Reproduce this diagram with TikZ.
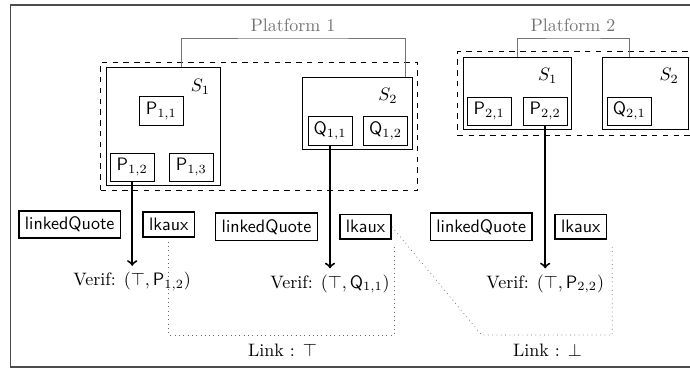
\documentclass[tikz,border=0pt]{standalone}
\usepackage{amssymb}
\usetikzlibrary{fit,calc}

\begin{document}
\begin{tikzpicture}[x=0.5556pt, y=-0.5556pt,
  pbox/.style={draw, minimum width=24.4pt, minimum height=15.9pt, inner sep=1pt},
  sysbox/.style={draw, inner sep=0pt},
  qtbox/.style={draw, thick, font=\sffamily},
  platline/.style={draw=black!55},
  linkline/.style={draw=black!60, dotted},
  verarrow/.style={->, line width=1.1pt}]
\useasboundingbox (0,0) rectangle (690,368);
\draw[black!70, line width=0.6pt] (10.5,5) rectangle (696,367);
% platform 1
\node[sysbox, dashed, fit={(100.7,62) (417.7,190.5)}] (d1) {};
\node[sysbox, fit={(106.3,67.7) (220.7,185)}] (s11) {}; \node (s11l) at (200.5,86.7) {$S_1$};
\node[sysbox, fit={(302.7,77) (412.3,149)}] (s12) {};   \node (s12l) at (388,96) {$S_2$};
% platform 2
\node[sysbox, dashed, fit={(457.7,51.7) (720,135)}] (d2) {};
\node[sysbox, fit={(463.3,57.3) (571,129.3)}] (s21) {}; \node (s21l) at (547.7,76) {$S_1$};
\node[sysbox, fit={(602.7,57.3) (688.3,129.3)}] (s22) {}; \node (s22l) at (669.2,76) {$S_2$};
\foreach \n/\x/\y/\l/\i in {p11/161.3/111/P/{1,1}, p12/132.2/167.2/P/{1,2}, p13/191.3/167.2/P/{1,3},
  q11/330/131/Q/{1,1}, q12/385.5/131/Q/{1,2}, p21/489.2/111.2/P/{2,1}, p22/545.2/111.2/P/{2,2}, q21/629.2/111.2/Q/{2,1}}
  \node[pbox] (\n) at (\x,\y) {$\mathsf{\l}_{\i}$};
% platform brackets
\coordinate (pl1) at (293,38); \node[text=black!55, above] (lab1) at (pl1) {Platform 1};
\draw[platline] ([shift={(17.5,0)}]s11.north) |- (pl1) -| ([shift={(47.5,0)}]s12.north);
\coordinate (pl2) at (573,38); \node[text=black!55, above] (lab2) at (pl2) {Platform 2};
\draw[platline] (s21.north) |- (pl2) -| (q21 |- s22.north);
% quotes
\foreach \n/\x/\y/\t in {lq1/69.7/224.5/linkedQuote, la1/168.7/224.5/lkaux, lq2/266.5/226.7/linkedQuote,
  la2/365.5/226.8/lkaux, lq3/481.2/226.7/linkedQuote, la3/580.8/226.8/lkaux}
  \node[qtbox] (\n) at (\x,\y) {\t};
% verification
\node (v1) at (132.2,281.5) {Verif: $(\top,\mathsf{P}_{1,2})$}; \draw[verarrow] (p12) -- (v1);
\node (v2) at (330,284) {Verif: $(\top,\mathsf{Q}_{1,1})$};     \draw[verarrow] (q11) -- (v2);
\node (v3) at (545.2,284) {Verif: $(\top,\mathsf{P}_{2,2})$};   \draw[verarrow] (p22) -- (v3);
% links
\coordinate (c1) at (282.5,335); \node (lk1) at (282.5,350) {Link : $\top$};
\draw[linkline] ([shift={(0,4)}]la1.south) |- (c1) -| ([shift={(2,4)}]la2.south east);
\coordinate (c2) at (481.7,335); \node (lk2) at (547.5,350) {Link : $\bot$};
\draw[linkline] (la2.east) -- (c2) -| ([shift={(5,6)}]la3.south east);
\end{tikzpicture}
\end{document}
